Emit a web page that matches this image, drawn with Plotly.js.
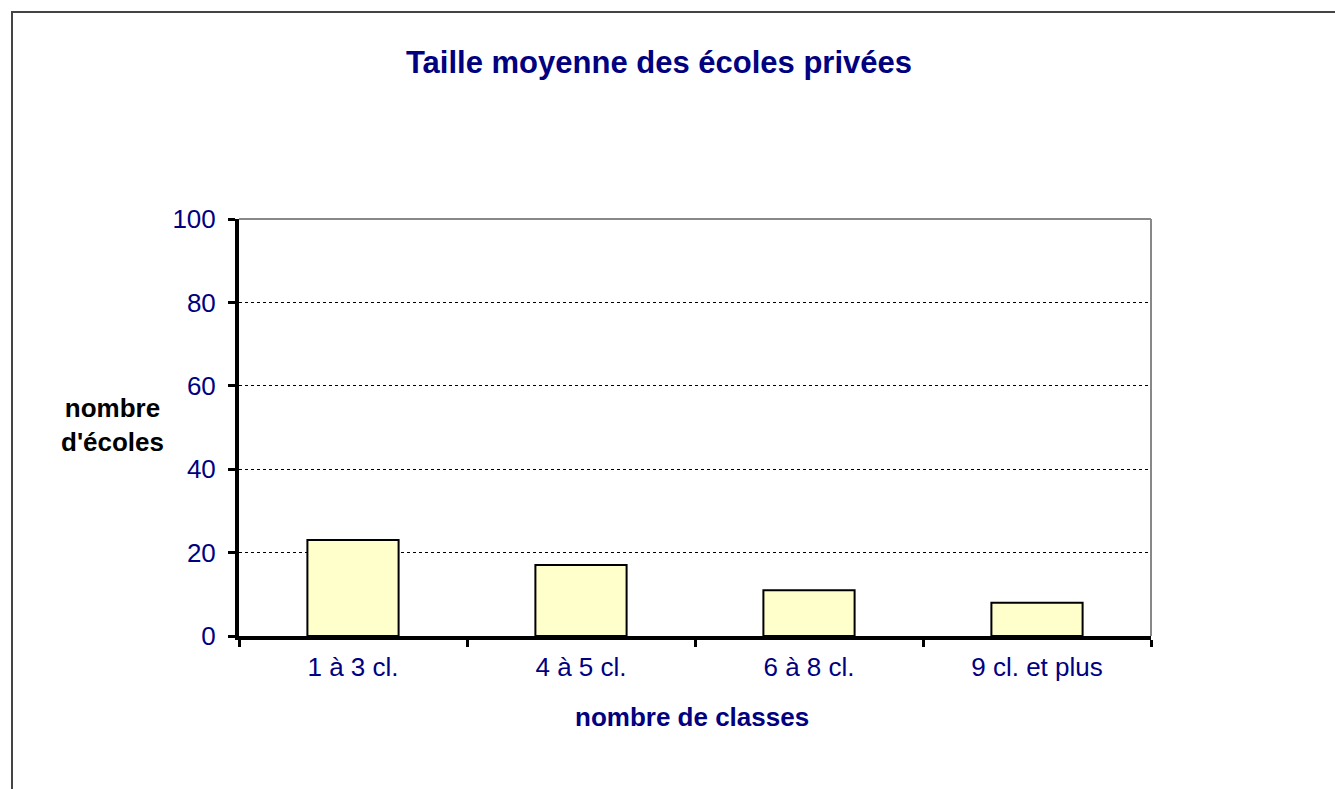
<!DOCTYPE html>
<html>
<head>
<meta charset="utf-8">
<script src="https://cdn.plot.ly/plotly-3.0.1.min.js"></script>
<style>html,body{margin:0;padding:0;background:#fff;}#chart{width:1335px;height:789px;}</style>
</head>
<body>
<div id="chart"></div>
<script>
const categories = ["1 à 3 cl.", "4 à 5 cl.", "6 à 8 cl.", "9 cl. et plus"];
const schoolCounts = [23, 17, 11, 8];
const yTicks = [0, 20, 40, 60, 80, 100];

const W = 1335, H = 789;
const L = 239, R = 1151, T = 219, B = 636;
const px = x => (x - L) / (R - L);
const py = y => (B - y) / (B - T);
const font = "Arial, 'Liberation Sans', sans-serif";
const navy = "#000080";

const trace = {
  type: "bar",
  x: categories,
  y: schoolCounts,
  marker: { color: "#FFFFCC", line: { color: "#000", width: 2 } },
  hoverinfo: "x+y"
};

const layout = {
  width: W, height: H,
  margin: { l: L, r: W - R, t: T, b: H - B, pad: 0 },
  paper_bgcolor: "#fff",
  plot_bgcolor: "#fff",
  showlegend: false,
  bargap: 0.6,
  title: {
    text: "<b>Taille moyenne des écoles privées</b>",
    font: { family: font, size: 31, color: navy },
    x: 659 / W, xanchor: "center", y: 1 - 62 / H, yanchor: "middle"
  },
  xaxis: {
    type: "category",
    showline: true, linecolor: "#000", linewidth: 4,
    ticks: "outside", tickson: "boundaries", ticklen: 7, tickwidth: 3, tickcolor: "#000",
    tickfont: { family: font, size: 26, color: navy },
    ticklabelstandoff: 5,
    showgrid: false, zeroline: false,
    title: { text: "" }
  },
  yaxis: {
    range: [0, 100],
    tickvals: yTicks,
    showline: true, linecolor: "#000", linewidth: 4,
    ticks: "outside", ticklen: 7, tickwidth: 3, tickcolor: "#000",
    tickfont: { family: font, size: 26, color: navy },
    ticklabelstandoff: 7,
    showgrid: true, gridcolor: "#000", gridwidth: 1, griddash: "dot",
    zeroline: false,
    title: { text: "" }
  },
  annotations: [
    {
      text: "<b>nombre<br>d'écoles</b>",
      xref: "paper", yref: "paper",
      x: px(113), y: py(425),
      xanchor: "center", yanchor: "middle",
      showarrow: false,
      font: { family: font, size: 26, color: "#000" }
    },
    {
      text: "<b>nombre de classes</b>",
      xref: "paper", yref: "paper",
      x: px(692), y: py(717),
      xanchor: "center", yanchor: "middle",
      showarrow: false,
      font: { family: font, size: 26, color: navy }
    }
  ],
  shapes: [
    { type: "line", xref: "paper", yref: "paper", x0: 0, x1: 1, y0: 1, y1: 1, line: { color: "#888", width: 2 }, layer: "above" },
    { type: "line", xref: "paper", yref: "paper", x0: 1, x1: 1, y0: 0, y1: 1, line: { color: "#888", width: 2 }, layer: "above" },
    { type: "rect", xref: "paper", yref: "paper", x0: px(12), x1: px(1400), y0: py(12), y1: py(850), line: { color: "#444", width: 2 }, layer: "above" }
  ]
};

Plotly.newPlot("chart", [trace], layout, { displayModeBar: false, staticPlot: true });
</script>
</body>
</html>
